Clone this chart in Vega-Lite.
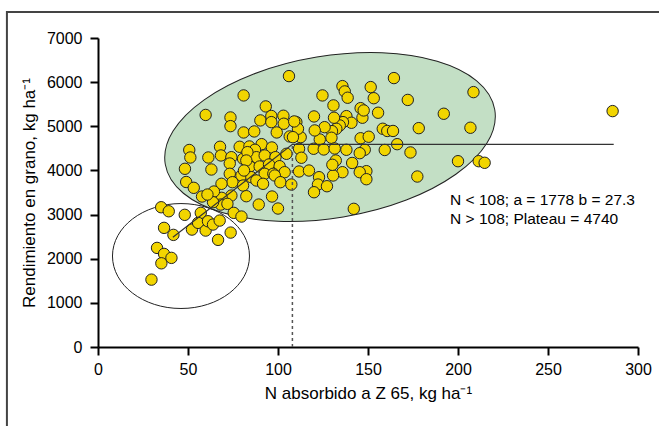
{
  "$schema": "https://vega.github.io/schema/vega-lite/v6.json",
  "width": 540,
  "height": 309,
  "autosize": {"type": "none"},
  "padding": {"left": 98, "top": 38, "right": 21, "bottom": 79},
  "background": "white",
  "config": {
    "view": {"stroke": null},
    "font": "Liberation Sans",
    "axis": {
      "domainColor": "black", "domainWidth": 2,
      "tickColor": "black", "tickWidth": 2, "tickSize": 8,
      "labelColor": "black", "labelFontSize": 16, "labelFont": "Liberation Sans",
      "titleColor": "black", "titleFontSize": 17, "titleFont": "Liberation Sans", "titleFontWeight": "normal",
      "grid": false, "labelFlush": false, "labelPadding": 6, "format": "d"
    }
  },
  "datasets": {
    "pts": [
      {"n": 285.9, "rend": 5344}, {"n": 208.6, "rend": 5774}, {"n": 192.1, "rend": 5284}, {"n": 206.9, "rend": 4967},
      {"n": 200.0, "rend": 4209}, {"n": 211.5, "rend": 4209}, {"n": 214.8, "rend": 4173}, {"n": 177.4, "rend": 3862},
      {"n": 178.2, "rend": 4958}, {"n": 173.6, "rend": 4407}, {"n": 172.1, "rend": 5597}, {"n": 164.4, "rend": 6092},
      {"n": 166.2, "rend": 4595}, {"n": 159.3, "rend": 4463}, {"n": 158.2, "rend": 4944}, {"n": 160.7, "rend": 4894},
      {"n": 163.9, "rend": 4894}, {"n": 155.6, "rend": 5307}, {"n": 153.2, "rend": 5636}, {"n": 151.5, "rend": 5888},
      {"n": 142.1, "rend": 3130}, {"n": 145.9, "rend": 4729}, {"n": 150.4, "rend": 4763}, {"n": 148.2, "rend": 4468},
      {"n": 145.4, "rend": 4391}, {"n": 146.9, "rend": 5194}, {"n": 145.9, "rend": 5411}, {"n": 147.6, "rend": 5359},
      {"n": 149.1, "rend": 3983}, {"n": 145.4, "rend": 3960}, {"n": 149.1, "rend": 3801}, {"n": 141.2, "rend": 4169},
      {"n": 135.8, "rend": 3960}, {"n": 130.6, "rend": 3885}, {"n": 132.1, "rend": 4225}, {"n": 130.2, "rend": 4128},
      {"n": 135.8, "rend": 5910}, {"n": 137.1, "rend": 5790}, {"n": 138.7, "rend": 5647}, {"n": 130.8, "rend": 5473},
      {"n": 138.0, "rend": 5230}, {"n": 140.8, "rend": 5080}, {"n": 136.1, "rend": 5094}, {"n": 134.3, "rend": 5019},
      {"n": 132.4, "rend": 4944}, {"n": 131.1, "rend": 5194}, {"n": 130.0, "rend": 4890}, {"n": 129.7, "rend": 4740},
      {"n": 125.9, "rend": 4980}, {"n": 124.7, "rend": 5699}, {"n": 123.2, "rend": 4702}, {"n": 120.0, "rend": 5223},
      {"n": 120.4, "rend": 4906}, {"n": 119.8, "rend": 4491}, {"n": 125.4, "rend": 4475}, {"n": 131.5, "rend": 4497},
      {"n": 138.0, "rend": 4468}, {"n": 112.6, "rend": 4754}, {"n": 110.2, "rend": 5094}, {"n": 111.1, "rend": 4944},
      {"n": 111.7, "rend": 4491}, {"n": 113.0, "rend": 4287}, {"n": 111.7, "rend": 3976}, {"n": 117.2, "rend": 3998},
      {"n": 122.8, "rend": 3847}, {"n": 122.2, "rend": 3681}, {"n": 127.2, "rend": 3642}, {"n": 120.0, "rend": 3506},
      {"n": 106.1, "rend": 6137}, {"n": 80.9, "rend": 5699}, {"n": 93.2, "rend": 5450}, {"n": 59.8, "rend": 5257},
      {"n": 73.6, "rend": 5200}, {"n": 73.6, "rend": 5003}, {"n": 90.2, "rend": 5133}, {"n": 96.3, "rend": 5234},
      {"n": 96.3, "rend": 5094}, {"n": 103.0, "rend": 5239}, {"n": 103.2, "rend": 5058}, {"n": 109.0, "rend": 5110},
      {"n": 80.9, "rend": 4860}, {"n": 86.8, "rend": 4883}, {"n": 99.3, "rend": 4860}, {"n": 106.5, "rend": 4770},
      {"n": 108.3, "rend": 4754}, {"n": 50.7, "rend": 4463}, {"n": 51.3, "rend": 4293}, {"n": 67.8, "rend": 4536},
      {"n": 68.3, "rend": 4339}, {"n": 61.3, "rend": 4293}, {"n": 78.7, "rend": 4536}, {"n": 84.1, "rend": 4543},
      {"n": 90.9, "rend": 4595}, {"n": 96.6, "rend": 4520}, {"n": 74.1, "rend": 4300}, {"n": 80.6, "rend": 4264},
      {"n": 87.2, "rend": 4468}, {"n": 88.0, "rend": 4300}, {"n": 92.6, "rend": 4339}, {"n": 98.6, "rend": 4300},
      {"n": 104.7, "rend": 4377}, {"n": 48.3, "rend": 4037}, {"n": 63.0, "rend": 4021}, {"n": 73.2, "rend": 4157},
      {"n": 84.3, "rend": 4089}, {"n": 89.8, "rend": 4089}, {"n": 95.0, "rend": 4135}, {"n": 100.9, "rend": 4096},
      {"n": 103.7, "rend": 3960}, {"n": 73.2, "rend": 3924}, {"n": 92.6, "rend": 3924}, {"n": 49.0, "rend": 3738},
      {"n": 53.2, "rend": 3606}, {"n": 83.0, "rend": 4414}, {"n": 82.4, "rend": 4225}, {"n": 97.4, "rend": 3924},
      {"n": 79.7, "rend": 3885}, {"n": 85.2, "rend": 3847}, {"n": 88.0, "rend": 3772}, {"n": 98.2, "rend": 3885},
      {"n": 101.3, "rend": 3733}, {"n": 107.4, "rend": 3681}, {"n": 74.7, "rend": 3733}, {"n": 80.6, "rend": 3658},
      {"n": 68.6, "rend": 3697}, {"n": 82.4, "rend": 3416}, {"n": 96.7, "rend": 3409}, {"n": 89.3, "rend": 3227},
      {"n": 100.0, "rend": 3137}, {"n": 74.1, "rend": 3431}, {"n": 68.7, "rend": 3379}, {"n": 68.2, "rend": 3227},
      {"n": 71.9, "rend": 3243}, {"n": 64.4, "rend": 3522}, {"n": 63.9, "rend": 3280}, {"n": 57.8, "rend": 3409},
      {"n": 60.8, "rend": 3454}, {"n": 35.1, "rend": 3166}, {"n": 39.3, "rend": 3075}, {"n": 48.2, "rend": 2994},
      {"n": 57.1, "rend": 3039}, {"n": 75.4, "rend": 3039}, {"n": 79.7, "rend": 2955}, {"n": 36.7, "rend": 2699},
      {"n": 41.9, "rend": 2540}, {"n": 52.2, "rend": 2660}, {"n": 55.6, "rend": 2812}, {"n": 59.8, "rend": 2638},
      {"n": 61.1, "rend": 2849}, {"n": 63.9, "rend": 2774}, {"n": 67.6, "rend": 2864}, {"n": 66.7, "rend": 2427},
      {"n": 73.7, "rend": 2592}, {"n": 32.8, "rend": 2245}, {"n": 36.7, "rend": 2109}, {"n": 40.8, "rend": 2019},
      {"n": 35.2, "rend": 1896}, {"n": 29.7, "rend": 1526}, {"n": 81.1, "rend": 3998}, {"n": 91.7, "rend": 3697}
    ],
    "fit": [
      {"n": 41.6, "rend": 2486},
      {"n": 108, "rend": 4590},
      {"n": 286.5, "rend": 4590}
    ],
    "grupos": [
      {"grupo": "alto", "n": 128.9, "rend": 4757},
      {"grupo": "bajo", "n": 46.1, "rend": 2061}
    ]
  },
  "layer": [
    {
      "data": {"values": [{}]},
      "mark": {"type": "rect", "fillOpacity": 0, "stroke": "#444444", "strokeWidth": 2},
      "encoding": {
        "x": {"datum": -50.6, "type": "quantitative", "scale": {"domain": [0, 300], "nice": false}, "title": "N absorbido a Z 65, kg ha⁻¹"},
        "x2": {"datum": 360},
        "y": {"datum": 7589, "type": "quantitative", "scale": {"domain": [0, 7000], "nice": false}, "title": "Rendimiento en grano, kg ha⁻¹"},
        "y2": {"datum": -3000}
      }
    },
    {
      "data": {"name": "grupos"},
      "transform": [{"filter": "datum.grupo == 'alto'"}],
      "mark": {
        "type": "point", "filled": true, "fill": "#c3dfc5", "opacity": 1, "fillOpacity": 1,
        "stroke": "#222222", "strokeWidth": 1, "strokeOpacity": 1,
        "shape": "M 1 0 C 1 0.268 0.552 0.485 0 0.485 C -0.552 0.485 -1 0.268 -1 0 C -1 -0.268 -0.552 -0.485 0 -0.485 C 0.552 -0.485 1 -0.268 1 0 Z",
        "size": 111556, "angle": -9.4
      },
      "encoding": {
        "x": {"field": "n", "type": "quantitative", "scale": {"domain": [0, 300], "nice": false}, "title": "N absorbido a Z 65, kg ha⁻¹"},
        "y": {"field": "rend", "type": "quantitative", "scale": {"domain": [0, 7000], "nice": false}, "title": "Rendimiento en grano, kg ha⁻¹"}
      }
    },
    {
      "data": {"name": "grupos"},
      "transform": [{"filter": "datum.grupo == 'bajo'"}],
      "mark": {
        "type": "point", "filled": false, "fill": null, "opacity": 1,
        "stroke": "#222222", "strokeWidth": 1, "strokeOpacity": 1,
        "shape": "M 1 0 C 1 0.423 0.552 0.766 0 0.766 C -0.552 0.766 -1 0.423 -1 0 C -1 -0.423 -0.552 -0.766 0 -0.766 C 0.552 -0.766 1 -0.423 1 0 Z",
        "size": 18769
      },
      "encoding": {
        "x": {"field": "n", "type": "quantitative", "scale": {"domain": [0, 300], "nice": false}, "title": "N absorbido a Z 65, kg ha⁻¹"},
        "y": {"field": "rend", "type": "quantitative", "scale": {"domain": [0, 7000], "nice": false}, "title": "Rendimiento en grano, kg ha⁻¹"}
      }
    },
    {
      "data": {"name": "pts"},
      "mark": {"type": "circle", "size": 130, "fill": "#f2d500", "opacity": 1, "stroke": "#222222", "strokeWidth": 1},
      "encoding": {
        "x": {
          "field": "n", "type": "quantitative",
          "scale": {"domain": [0, 300], "nice": false},
          "title": "N absorbido a Z 65, kg ha⁻¹",
          "axis": {"values": [0, 50, 100, 150, 200, 250, 300], "titlePadding": 8}
        },
        "y": {
          "field": "rend", "type": "quantitative",
          "scale": {"domain": [0, 7000], "nice": false},
          "title": "Rendimiento en grano, kg ha⁻¹",
          "axis": {"values": [0, 1000, 2000, 3000, 4000, 5000, 6000, 7000], "titlePadding": 8, "labelPadding": 8}
        }
      }
    },
    {
      "data": {"values": [{}]},
      "mark": {"type": "rule", "color": "#555555", "strokeWidth": 1.5, "strokeDash": [3, 3]},
      "encoding": {
        "x": {"datum": 108, "type": "quantitative", "scale": {"domain": [0, 300], "nice": false}, "title": "N absorbido a Z 65, kg ha⁻¹"},
        "y": {"datum": 0, "type": "quantitative", "scale": {"domain": [0, 7000], "nice": false}, "title": "Rendimiento en grano, kg ha⁻¹"},
        "y2": {"datum": 4590}
      }
    },
    {
      "data": {"name": "fit"},
      "mark": {"type": "line", "color": "#333333", "strokeWidth": 1.2},
      "encoding": {
        "x": {"field": "n", "type": "quantitative", "scale": {"domain": [0, 300], "nice": false}, "title": "N absorbido a Z 65, kg ha⁻¹"},
        "y": {"field": "rend", "type": "quantitative", "scale": {"domain": [0, 7000], "nice": false}, "title": "Rendimiento en grano, kg ha⁻¹"}
      }
    },
    {
      "data": {"values": [{}]},
      "mark": {"type": "text", "align": "left", "baseline": "alphabetic", "fontSize": 15.5, "lineHeight": 19, "color": "black"},
      "encoding": {
        "x": {"datum": 195.6, "type": "quantitative", "scale": {"domain": [0, 300], "nice": false}, "title": "N absorbido a Z 65, kg ha⁻¹"},
        "y": {"datum": 3217, "type": "quantitative", "scale": {"domain": [0, 7000], "nice": false}, "title": "Rendimiento en grano, kg ha⁻¹"},
        "text": {"value": ["N < 108; a = 1778 b = 27.3", "N > 108; Plateau = 4740"]}
      }
    }
  ]
}
